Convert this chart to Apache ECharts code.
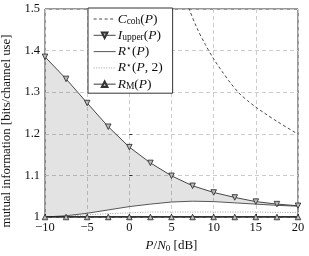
<!DOCTYPE html>
<html><head><meta charset="utf-8">
<script src="https://cdn.jsdelivr.net/npm/echarts@6/dist/echarts.min.js"></script>
<style>html,body{margin:0;padding:0;background:#fff}#c{width:309px;height:256px}</style>
</head><body><div id="c"></div>
<script>
var snrGrid = [-10,-7.5,-5,-2.5,0,2.5,5,7.5,10,12.5,15,17.5,20];
var iUpper = [1.385,1.332,1.274,1.217,1.168,1.130,1.099,1.075,1.059,1.047,1.037,1.031,1.027];
var rStar = [1.000,1.003,1.009,1.017,1.025,1.031,1.036,1.038,1.037,1.034,1.031,1.028,1.026];
var rStar2 = [1.000,1.002,1.005,1.008,1.010,1.012,1.012,1.012,1.012,1.012,1.012,1.011,1.011];
var rM = [1,1,1,1,1,1,1,1,1,1,1,1,1];
var cohSnr = [6,7,8,9,10,11,12,13,14,15,16,17.5,20];
var cCoh = [1.565,1.505,1.455,1.415,1.380,1.350,1.322,1.298,1.280,1.264,1.250,1.230,1.199];
var xTicks = {min:-10,max:20,interval:5};
var yTicks = {min:1,max:1.5,interval:0.1};

function pairs(xs, ys){ return xs.map(function(x,i){return [x, ys[i]];}); }
var FF = '"Liberation Serif", "DejaVu Serif", serif';
var LF = 13.5;
var rich = {
  i:{fontFamily:FF,fontStyle:'italic',fontSize:LF,color:'#111'},
  n:{fontFamily:FF,fontSize:LF,color:'#111'},
  s:{fontFamily:FF,fontSize:9.5,color:'#111',verticalAlign:'bottom',padding:[6,0,0,0]},
  u:{fontFamily:FF,fontSize:9,color:'#111',verticalAlign:'top',padding:[0,0,5,0]}
};
var richX = {
  i:{fontFamily:FF,fontStyle:'italic',fontSize:13,color:'#111'},
  n:{fontFamily:FF,fontSize:13,color:'#111'},
  s:{fontFamily:FF,fontSize:9,color:'#111',verticalAlign:'bottom',padding:[6,0,0,0]}
};
var legendText = {
  'Ccoh': '{i|C}{s|coh}{n|(}{i|P}{n|)}',
  'Iupper': '{i|I}{s|upper}{n|(}{i|P}{n|)}',
  'Rstar': '{i|R}{u|⋆}{n|(}{i|P}{n|)}',
  'Rstar2': '{i|R}{u|⋆}{n|(}{i|P}{n|, 2)}',
  'RM': '{i|R}{s|M}{n|(}{i|P}{n|)}'
};
var hideSym = {opacity:0,color:'transparent',borderWidth:0};
var thinLine = {width:0.9};
var chart = echarts.init(document.getElementById('c'), null, {renderer:'canvas'});
chart.setOption({
  animation:false,
  grid:{left:45,right:11,top:9,bottom:39,show:true,borderColor:'#333',borderWidth:1,backgroundColor:'transparent',
    containLabel:false,outerBoundsMode:'none'},
  xAxis:{type:'value',min:xTicks.min,max:xTicks.max,interval:xTicks.interval,
    axisLine:{show:false},axisTick:{show:true,inside:true,length:3,lineStyle:{color:'#333'}},
    splitLine:{show:true,lineStyle:{color:'#ccc',type:[4,3],width:1}},
    axisLabel:{fontFamily:FF,fontSize:12.5,color:'#111',margin:4,
      formatter:function(v){return String(v).replace('-','\u2212');}},
    name:'{i|P}{n|/}{i|N}{s|0}{n| [dB]}',nameLocation:'middle',nameGap:20,nameTextStyle:{rich:richX}},
  yAxis:{type:'value',min:yTicks.min,max:yTicks.max,interval:yTicks.interval,
    axisLine:{show:false},axisTick:{show:true,inside:true,length:3,lineStyle:{color:'#333'}},
    splitLine:{show:true,lineStyle:{color:'#ccc',type:[4,3],width:1}},
    axisLabel:{fontFamily:FF,fontSize:12.5,color:'#111',margin:5},
    name:'mutual information [bits/channel use]',nameLocation:'middle',nameGap:25,
    nameTextStyle:{fontFamily:FF,fontSize:12.8,color:'#111',padding:[0,36,0,0]}},
  legend:{orient:'vertical',left:88,top:8,padding:[4,10,2,5],itemWidth:22,itemHeight:7,itemGap:2.3,
    backgroundColor:'#fff',borderColor:'#333',borderWidth:1,borderRadius:0,
    data:[{name:'Ccoh',itemStyle:hideSym,lineStyle:thinLine},{name:'Iupper',lineStyle:thinLine},
      {name:'Rstar',itemStyle:hideSym,lineStyle:thinLine},{name:'Rstar2',itemStyle:hideSym,lineStyle:thinLine},
      {name:'RM',lineStyle:{width:1.3,color:'#666'}}],
    formatter:function(n){return legendText[n];},
    textStyle:{rich:rich,lineHeight:14,padding:[0,0,0,-3]}},
  series:[
    {name:'band',type:'custom',silent:true,z:1,data:[[0]],
      renderItem:function(params, api){
        var pts = [];
        for (var i=0;i<snrGrid.length;i++) pts.push(api.coord([snrGrid[i], iUpper[i]]));
        for (var j=snrGrid.length-1;j>=0;j--) pts.push(api.coord([snrGrid[j], rStar[j]]));
        return {type:'polygon',shape:{points:pts},style:{fill:'rgba(0,0,0,0.11)'}};
      }},
    {name:'Ccoh',type:'line',data:pairs(cohSnr,cCoh),symbol:'none',smooth:0.3,lineStyle:{color:'#333',width:0.9,type:[3,2.5]},itemStyle:{color:'#333'},z:3},
    {name:'Iupper',type:'line',data:pairs(snrGrid,iUpper),symbol:'triangle',symbolRotate:180,symbolSize:5.5,
      lineStyle:{color:'#333',width:0.9},itemStyle:{color:'#bbb',borderColor:'#333',borderWidth:0.9},z:4},
    {name:'Rstar',type:'line',data:pairs(snrGrid,rStar),symbol:'none',lineStyle:{color:'#444',width:0.9},itemStyle:{color:'#444'},z:3},
    {name:'Rstar2',type:'line',data:pairs(snrGrid,rStar2),symbol:'none',lineStyle:{color:'#999',width:0.9,type:[1,1.5]},itemStyle:{color:'#999'},z:3},
    {name:'RM',type:'line',data:pairs(snrGrid,rM),symbol:'triangle',symbolSize:5.5,
      lineStyle:{color:'#111',width:1.6},itemStyle:{color:'#bbb',borderColor:'#333',borderWidth:0.9},z:5}
  ]
});
</script></body></html>
